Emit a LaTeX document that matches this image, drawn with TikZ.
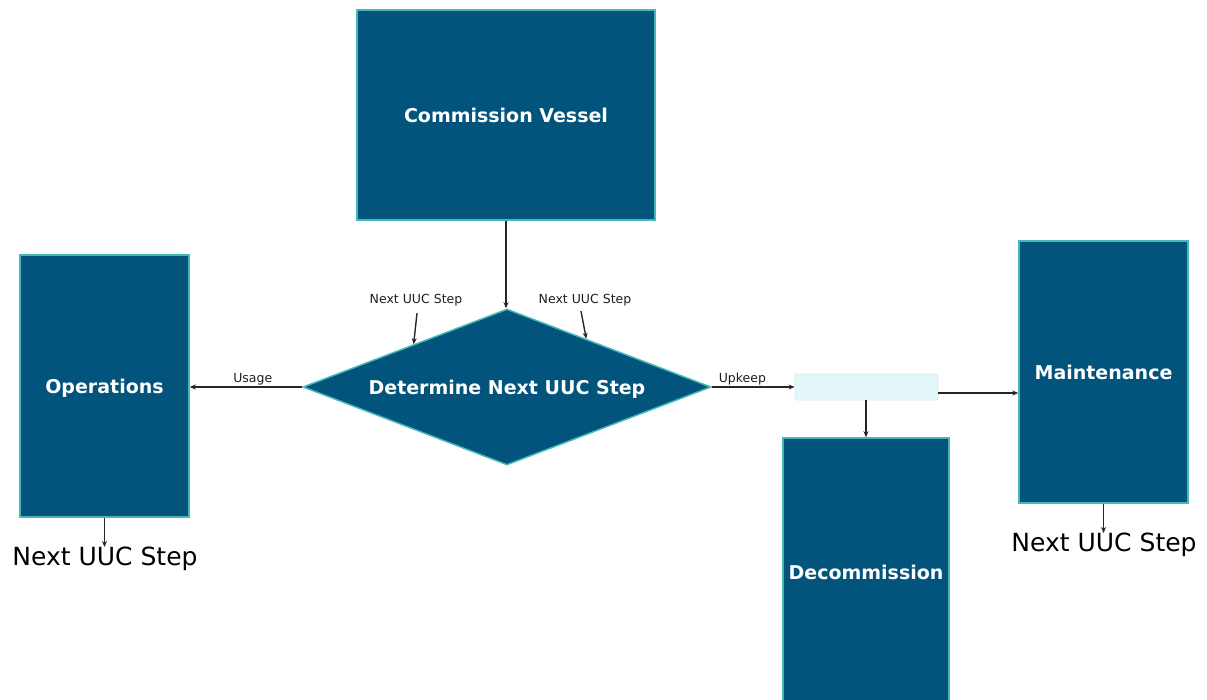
\documentclass[tikz,border=0pt]{standalone}
\usepackage{fontspec}
\setmainfont{DejaVu Sans}
\usetikzlibrary{shapes.geometric,arrows.meta,calc}
\definecolor{boxfill}{HTML}{02547D}
\definecolor{boxline}{HTML}{45B8B8}
\definecolor{lightfill}{HTML}{E3F6F8}
\definecolor{lightline}{HTML}{D5EEF1}
\definecolor{txtdark}{HTML}{1E1E1E}
\tikzset{
  procbox/.style={draw=boxline, line width=1.5pt, fill=boxfill, text=white,
    font=\fontsize{19}{22}\selectfont\bfseries, inner sep=0pt, text depth=0pt},
  decbox/.style={diamond, draw=boxline, line width=1.5pt, fill=boxfill, text=white,
    font=\fontsize{19}{22}\selectfont\bfseries, inner sep=0pt, aspect=2.615, text depth=0pt},
  smalllbl/.style={font=\fontsize{12.5}{14}\selectfont, text=txtdark, inner sep=1pt},
  biglbl/.style={font=\fontsize{25}{28}\selectfont, text=black, inner sep=0pt},
  arr/.style={draw=black!85, line width=1.4pt, -{Stealth[length=6pt,width=5pt]}},
}
\begin{document}
\begin{tikzpicture}[x=1pt,y=-1pt]
\useasboundingbox (0,0) rectangle (1207,699);
\clip (0,0) rectangle (1207,699);
\fill[white] (0,0) rectangle (1207,699);

\node[procbox, minimum width=298pt, minimum height=210pt] (cv) at (506,115) {Commission Vessel};
\node[decbox, minimum width=408pt, minimum height=156pt] (det) at (507,387) {Determine Next UUC Step};
\node[procbox, minimum width=169pt, minimum height=262pt] (ops) at (104.5,386) {Operations};
\node[procbox, minimum width=169pt, minimum height=262pt] (mnt) at (1103.5,372) {Maintenance};
\node[procbox, minimum width=166pt, minimum height=268pt] (dec) at (866,572) {Decommission};
\node[draw=lightline, line width=0.8pt, fill=lightfill, rounded corners=2pt,
      minimum width=143pt, minimum height=26pt, inner sep=0pt] (lb) at (866.5,387) {};

\node[smalllbl] (n1) at (416,300) {Next UUC Step};
\node[smalllbl] (n2) at (585,300) {Next UUC Step};
\node[biglbl, anchor=north] (n3) at (105,547) {Next UUC Step};
\node[biglbl, anchor=north] (n4) at (1104,533) {Next UUC Step};

\draw[arr] (cv.south) -- (cv.south |- det.north);
\draw[arr] (det.west) -- node[pos=0.44, above, smalllbl] {Usage} (det.west -| ops.east);
\draw[arr] (det.east) -- node[pos=0.37, above, smalllbl] {Upkeep} (lb.west);
\draw[arr] ([yshift=-6pt]lb.east) -- ([yshift=-6pt]lb.east -| mnt.west);
\draw[arr] (lb.south -| dec.north) -- (dec.north);
\draw[arr] ([yshift=-6pt,xshift=1pt]n1.south) -- ($(det.north)!0.456!(det.west)$);
\draw[arr] ([yshift=-4pt,xshift=-4pt]n2.south) -- ($(det.north)!0.387!(det.east)$);
\draw[arr] (ops.south) -- (n3.north -| ops.south);
\draw[arr] (mnt.south) -- (n4.north -| mnt.south);
\end{tikzpicture}
\end{document}
